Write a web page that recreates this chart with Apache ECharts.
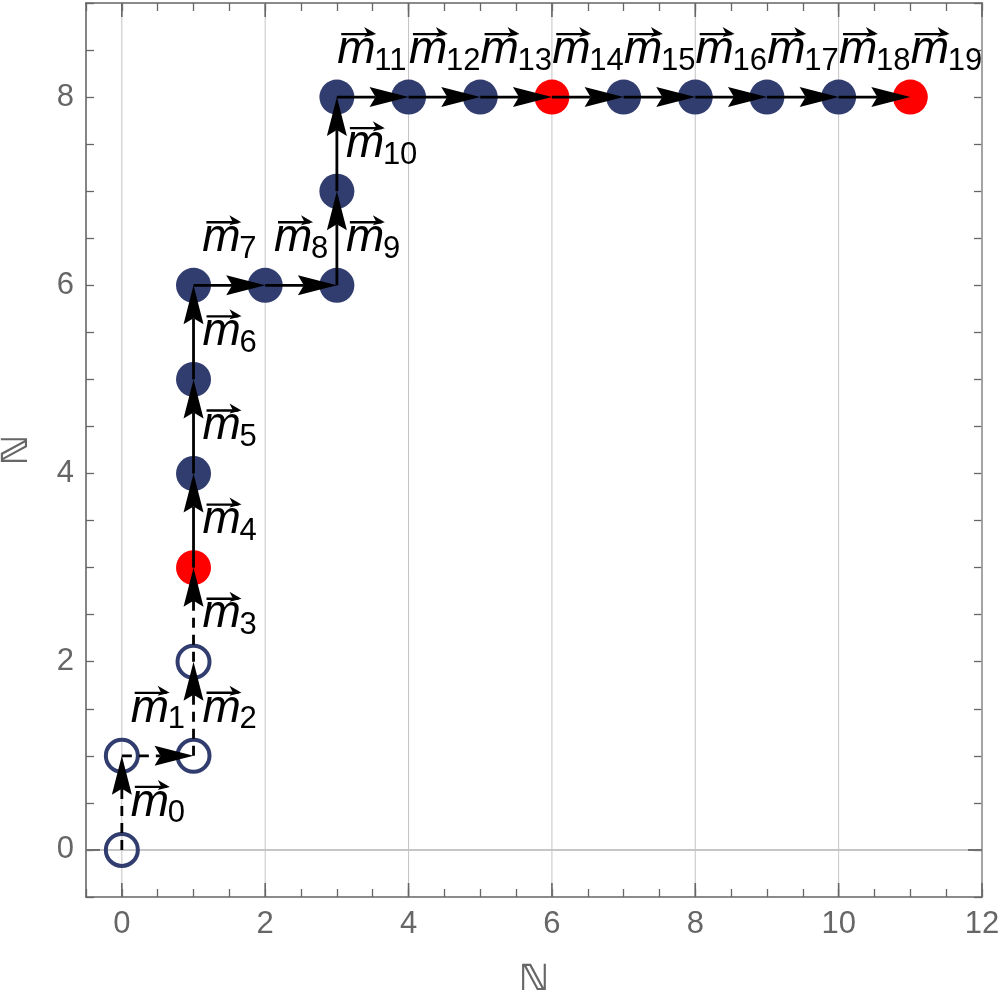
<!DOCTYPE html>
<html>
<head>
<meta charset="utf-8">
<script src="https://cdn.jsdelivr.net/npm/echarts@6/dist/echarts.min.js"></script>
<style>
  html, body { margin: 0; padding: 0; background: #fff; }
  #main { width: 1000px; height: 1002px; }
</style>
</head>
<body>
<div id="main"></div>
<script>
// path of the walk (point i -> point i+1 is the vector m_i)
var pathX = [0, 0, 1, 1, 1, 1, 1, 1, 2, 3, 3, 3, 4, 5, 6, 7, 8, 9, 10, 11];
var pathY = [0, 1, 1, 2, 3, 4, 5, 6, 6, 6, 7, 8, 8, 8, 8, 8, 8, 8, 8, 8];
var pointKind = ["open", "open", "open", "open", "red", "fill", "fill", "fill", "fill", "fill",
                 "fill", "fill", "fill", "fill", "red", "fill", "fill", "fill", "fill", "red"];
var dashedArrowCount = 4;

// vector labels m_0 .. m_19 (side: 1 = right of a vertical arrow, 0 = above a horizontal one)
var labelX = [0, 0.5, 1, 1, 1, 1, 1, 1.5, 2.5, 3, 3, 3.5, 4.5, 5.5, 6.5, 7.5, 8.5, 9.5, 10.5, 11.5];
var labelY = [0.5, 1, 1.5, 2.5, 3.5, 4.5, 5.5, 6, 6, 6.5, 7.5, 8, 8, 8, 8, 8, 8, 8, 8, 8];
var labelSide = [1, 0, 1, 1, 1, 1, 1, 0, 0, 1, 1, 0, 0, 0, 0, 0, 0, 0, 0, 0];

// frame
var majorX = [0, 2, 4, 6, 8, 10, 12];
var majorY = [0, 2, 4, 6, 8];
var xRange = [-0.5, 12];
var yRange = [-0.5, 9];

var NAVY = "#313d6e";
var RED = "#ff0000";
var AXIS = "#666666";

var dom = document.getElementById("main");
var myChart = echarts.init(dom, null, { renderer: "canvas" });

function pointsOf(kind) {
  var out = [];
  for (var i = 0; i < pathX.length; i++) {
    if (pointKind[i] === kind) out.push([pathX[i], pathY[i]]);
  }
  return out;
}

var arrowData = [];
for (var i = 0; i < pathX.length - 1; i++) {
  arrowData.push([pathX[i], pathY[i], pathX[i + 1], pathY[i + 1], i < dashedArrowCount ? 1 : 0]);
}

var labelData = [];
for (var j = 0; j < labelX.length; j++) {
  labelData.push([labelX[j], labelY[j], j, labelSide[j]]);
}

function frameAxis(pos, range, showLabel, name, gap) {
  return {
    type: "value",
    position: pos,
    min: range[0],
    max: range[1],
    interval: 0.5,
    name: name,
    nameLocation: "middle",
    nameGap: gap,
    nameTextStyle: { color: AXIS, fontSize: 36, fontWeight: "bold", fontFamily: "DejaVu Sans" },
    axisLine: { show: true, onZero: false, lineStyle: { color: AXIS, width: 1.6 } },
    axisTick: { show: true, inside: true, length: 8, lineStyle: { color: AXIS, width: 1.3 } },
    axisLabel: {
      show: showLabel,
      margin: 12,
      color: AXIS,
      fontSize: 31,
      fontFamily: "Liberation Sans",
      formatter: function (v) { return v % 2 === 0 ? String(v) : ""; }
    },
    splitLine: { show: false }
  };
}

// major grid lines + long ticks, drawn through the axes scale
function renderMajor(isX) {
  return function (params, api) {
    var cs = params.coordSys;
    var v = api.value(0);
    var kids = [];
    var tickStyle = { stroke: AXIS, lineWidth: 1.6 };
    if (isX) {
      var px = api.coord([v, 0])[0];
      kids.push({ type: "line", shape: { x1: px, y1: cs.y, x2: px, y2: cs.y + cs.height },
                  style: { stroke: "#c4c4c4", lineWidth: 1 } });
      kids.push({ type: "line", shape: { x1: px, y1: cs.y + cs.height, x2: px, y2: cs.y + cs.height - 14 }, style: tickStyle });
      kids.push({ type: "line", shape: { x1: px, y1: cs.y, x2: px, y2: cs.y + 14 }, style: tickStyle });
    } else {
      var py = api.coord([0, v])[1];
      kids.push({ type: "line", shape: { x1: cs.x, y1: py, x2: cs.x + cs.width, y2: py },
                  style: { stroke: "#c4c4c4", lineWidth: 1 } });
      kids.push({ type: "line", shape: { x1: cs.x, y1: py, x2: cs.x + 14, y2: py }, style: tickStyle });
      kids.push({ type: "line", shape: { x1: cs.x + cs.width, y1: py, x2: cs.x + cs.width - 14, y2: py }, style: tickStyle });
    }
    return { type: "group", children: kids };
  };
}

function renderArrow(params, api) {
  var p1 = api.coord([api.value(0), api.value(1)]);
  var p2 = api.coord([api.value(2), api.value(3)]);
  var dashed = api.value(4) === 1;
  var dx = p2[0] - p1[0], dy = p2[1] - p1[1];
  var len = Math.sqrt(dx * dx + dy * dy);
  var ux = dx / len, uy = dy / len;
  var nx = -uy, ny = ux;
  var headLen = 39, headHalf = 10, notch = 33;
  var back = [p2[0] - ux * headLen, p2[1] - uy * headLen];
  var nb = [p2[0] - ux * notch, p2[1] - uy * notch];
  return {
    type: "group",
    children: [
      {
        type: "line",
        shape: { x1: p1[0], y1: p1[1], x2: nb[0], y2: nb[1] },
        style: { stroke: "#000", lineWidth: 2.8, lineDash: dashed ? [10, 7] : null }
      },
      {
        type: "polygon",
        shape: { points: [
          [p2[0], p2[1]],
          [back[0] + nx * headHalf, back[1] + ny * headHalf],
          [nb[0], nb[1]],
          [back[0] - nx * headHalf, back[1] - ny * headHalf]
        ] },
        style: { fill: "#000" }
      }
    ]
  };
}

function renderLabel(params, api) {
  var p = api.coord([api.value(0), api.value(1)]);
  var sub = String(api.value(2));
  var side = api.value(3);
  var mW = 37, subW = sub.length * 17;
  var left, base;
  if (side === 1) {
    left = p[0] + 9;
    base = p[1] + 14;
  } else {
    left = p[0] - (mW + subW) / 2;
    base = p[1] - 33;
  }
  var ay = base - 30;
  var ax1 = left + 4, ax2 = left + 39;
  return {
    type: "group",
    children: [
      {
        type: "text",
        style: { text: "m", x: left, y: base - 14, verticalAlign: "middle", align: "left",
                 font: "italic 46px 'Liberation Sans'", fill: "#000" }
      },
      {
        type: "text",
        style: { text: sub, x: left + mW, y: base - 3, verticalAlign: "middle", align: "left",
                 font: "31px 'Liberation Sans'", fill: "#000" }
      },
      {
        type: "line",
        shape: { x1: ax1, y1: ay, x2: ax2 - 3, y2: ay },
        style: { stroke: "#000", lineWidth: 2.4 }
      },
      {
        type: "polygon",
        shape: { points: [[ax2, ay], [ax2 - 12, ay - 7], [ax2 - 9, ay - 1], [ax2 - 12, ay + 3]] },
        style: { fill: "#000" }
      }
    ]
  };
}

var option = {
  animation: false,
  backgroundColor: "#fff",
  grid: { left: 86, top: 3, right: 18, bottom: 105, containLabel: false, outerBoundsMode: "none" },
  xAxis: [
    frameAxis("bottom", xRange, true, "\u2115", 66),
    frameAxis("top", xRange, false, "", 0)
  ],
  yAxis: [
    frameAxis("left", yRange, true, "\u2115", 50),
    frameAxis("right", yRange, false, "", 0)
  ],
  series: [
    {
      type: "custom", name: "gridX", silent: true, z: 1,
      renderItem: renderMajor(true),
      data: majorX.map(function (v) { return [v, 0]; }),
      encode: { x: 0, y: 1 }
    },
    {
      type: "custom", name: "gridY", silent: true, z: 1,
      renderItem: renderMajor(false),
      data: majorY.map(function (v) { return [0, v]; }),
      encode: { x: 0, y: 1 }
    },
    {
      type: "scatter", name: "open", silent: true, z: 2,
      symbol: "circle", symbolSize: 32,
      itemStyle: { color: "rgba(0,0,0,0)", borderColor: NAVY, borderWidth: 4, opacity: 1 },
      data: pointsOf("open")
    },
    {
      type: "scatter", name: "filled", silent: true, z: 2,
      symbol: "circle", symbolSize: 35,
      itemStyle: { color: NAVY, opacity: 1 },
      data: pointsOf("fill")
    },
    {
      type: "scatter", name: "marked", silent: true, z: 2,
      symbol: "circle", symbolSize: 35,
      itemStyle: { color: RED, opacity: 1 },
      data: pointsOf("red")
    },
    {
      type: "custom", name: "arrows", silent: true, z: 3,
      renderItem: renderArrow,
      data: arrowData,
      encode: { x: [0, 2], y: [1, 3] }
    },
    {
      type: "custom", name: "labels", silent: true, z: 4,
      renderItem: renderLabel,
      data: labelData,
      encode: { x: 0, y: 1 }
    }
  ]
};

if (option && typeof option === "object") {
  myChart.setOption(option, true);
}
</script>
</body>
</html>
